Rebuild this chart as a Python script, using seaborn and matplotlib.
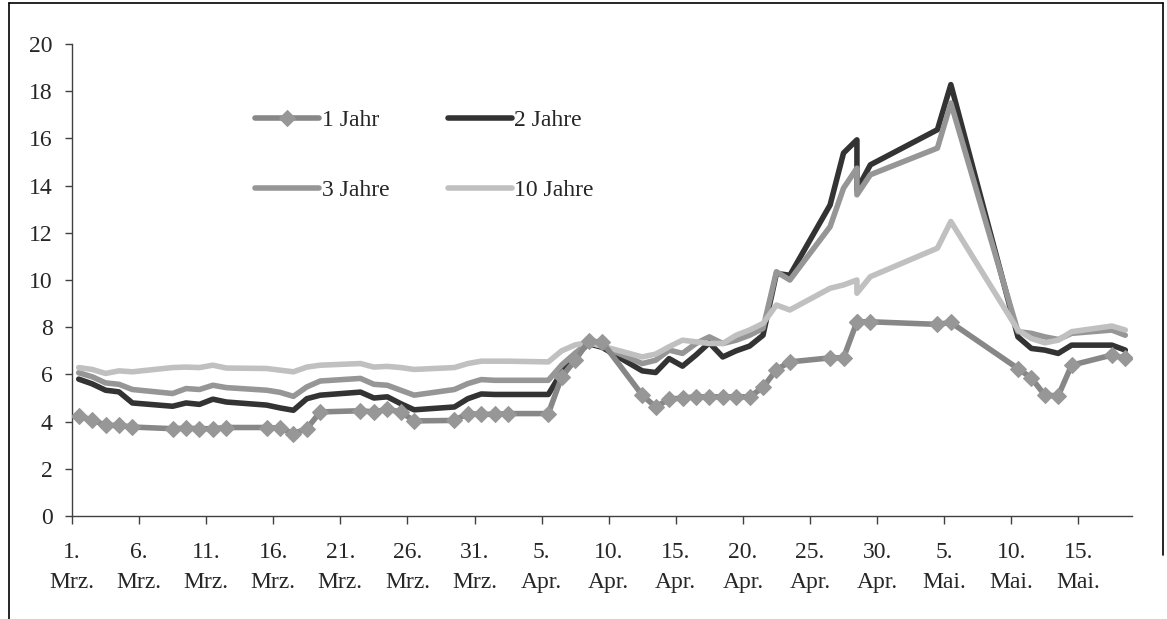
import numpy as np
import pandas as pd
import matplotlib
matplotlib.use("Agg")
import matplotlib.pyplot as plt
from matplotlib.lines import Line2D
import seaborn as sns

# --- Data (2004) ---
dates = [
    "2004-03-01", "2004-03-02", "2004-03-03", "2004-03-04", "2004-03-05",
    "2004-03-08", "2004-03-09", "2004-03-10", "2004-03-11", "2004-03-12",
    "2004-03-15", "2004-03-16", "2004-03-17", "2004-03-18", "2004-03-19",
    "2004-03-22", "2004-03-23", "2004-03-24", "2004-03-25", "2004-03-26",
    "2004-03-29", "2004-03-30", "2004-03-31", "2004-04-01", "2004-04-02",
    "2004-04-05", "2004-04-06", "2004-04-07", "2004-04-08", "2004-04-09",
    "2004-04-12", "2004-04-13", "2004-04-14", "2004-04-15", "2004-04-16",
    "2004-04-17", "2004-04-18", "2004-04-19", "2004-04-20", "2004-04-21",
    "2004-04-22", "2004-04-23", "2004-04-26", "2004-04-27", "2004-04-28",
    "2004-04-28", "2004-04-29", "2004-05-04", "2004-05-05", "2004-05-10",
    "2004-05-11", "2004-05-12", "2004-05-13", "2004-05-14", "2004-05-17",
    "2004-05-18",
]

jahr_1 = [
    4.22, 4.08, 3.84, 3.84, 3.77, 3.70, 3.72, 3.70, 3.70, 3.75,
    3.75, 3.72, 3.49, 3.70, 4.41, 4.46, 4.41, 4.52, 4.41, 4.03,
    4.05, 4.34, 4.31, 4.31, 4.34, 4.34, 5.90, 6.60, 7.40, 7.38,
    5.12, 4.62, 4.95, 5.00, 5.05, 5.05, 5.05, 5.05, 5.05, 5.45,
    6.20, 6.53, 6.70, 6.70, 8.23, 8.23, 8.23, 8.12, 8.20, 6.25,
    5.85, 5.12, 5.09, 6.39, 6.82, 6.68,
]

jahre_2 = [
    5.80, 5.60, 5.33, 5.26, 4.79, 4.65, 4.79, 4.73, 4.95, 4.83,
    4.70, 4.58, 4.48, 4.97, 5.12, 5.25, 5.00, 5.05, 4.76, 4.50,
    4.62, 4.97, 5.17, 5.15, 5.15, 5.15, 6.10, 6.80, 7.30, 7.15,
    6.15, 6.08, 6.67, 6.35, 6.82, 7.34, 6.74, 7.00, 7.20, 7.66,
    10.28, 10.20, 13.18, 15.38, 15.94, 13.82, 14.88, 16.37, 18.28, 7.59,
    7.10, 7.03, 6.89, 7.24, 7.24, 7.03,
]

jahre_3 = [
    6.07, 5.90, 5.64, 5.58, 5.36, 5.19, 5.40, 5.36, 5.54, 5.44,
    5.33, 5.24, 5.07, 5.47, 5.72, 5.83, 5.58, 5.54, 5.33, 5.12,
    5.36, 5.61, 5.78, 5.75, 5.75, 5.75, 6.40, 6.90, 7.35, 7.20,
    6.46, 6.60, 7.03, 6.89, 7.31, 7.59, 7.31, 7.45, 7.66, 7.95,
    10.35, 10.00, 12.26, 13.89, 14.74, 13.61, 14.46, 15.59, 17.50, 7.81,
    7.74, 7.59, 7.48, 7.74, 7.88, 7.66,
]

jahre_10 = [
    6.29, 6.21, 6.04, 6.15, 6.11, 6.29, 6.31, 6.29, 6.39, 6.27,
    6.25, 6.18, 6.11, 6.31, 6.39, 6.46, 6.31, 6.34, 6.29, 6.21,
    6.29, 6.46, 6.56, 6.56, 6.56, 6.53, 7.00, 7.25, 7.35, 7.20,
    6.74, 6.86, 7.17, 7.45, 7.38, 7.31, 7.31, 7.66, 7.88, 8.16,
    8.94, 8.73, 9.65, 9.79, 10.00, 9.44, 10.14, 11.35, 12.48, 7.88,
    7.52, 7.34, 7.45, 7.81, 8.05, 7.88,
]

tick_dates = [
    "2004-03-01", "2004-03-06", "2004-03-11", "2004-03-16", "2004-03-21",
    "2004-03-26", "2004-03-31", "2004-04-05", "2004-04-10", "2004-04-15",
    "2004-04-20", "2004-04-25", "2004-04-30", "2004-05-05", "2004-05-10",
    "2004-05-15",
]
tick_labels = [
    "1.\nMrz.", "6.\nMrz.", "11.\nMrz.", "16.\nMrz.", "21.\nMrz.",
    "26.\nMrz.", "31.\nMrz.", "5.\nApr.", "10.\nApr.", "15.\nApr.",
    "20.\nApr.", "25.\nApr.", "30.\nApr.", "5.\nMai.", "10.\nMai.",
    "15.\nMai.",
]

# --- Styling ---
sns.set_theme(style="white")
plt.rcParams["font.family"] = ["Liberation Serif", "DejaVu Serif"]

df = pd.DataFrame({
    "Datum": pd.to_datetime(dates) + pd.Timedelta(hours=12),
    "1 Jahr": jahr_1,
    "2 Jahre": jahre_2,
    "3 Jahre": jahre_3,
    "10 Jahre": jahre_10,
})

fig = plt.figure(figsize=(11.67, 6.19), dpi=100)
ax = fig.add_axes([0.0617, 0.1664, 0.9083, 0.7625])

line_kw = dict(estimator=None, sort=False, ax=ax, linewidth=4,
               solid_capstyle="round", solid_joinstyle="round")

sns.lineplot(data=df, x="Datum", y="2 Jahre", color="#333333",
             label="2 Jahre", **line_kw)
sns.lineplot(data=df, x="Datum", y="3 Jahre", color="#969696",
             label="3 Jahre", **line_kw)
sns.lineplot(data=df, x="Datum", y="10 Jahre", color="#c0c0c0",
             label="10 Jahre", **line_kw)
sns.lineplot(data=df, x="Datum", y="1 Jahr", color="#878787",
             marker="D", markersize=8, markerfacecolor="#979797",
             markeredgecolor="#979797", label="1 Jahr", zorder=5, **line_kw)

ax.set_xlim(pd.Timestamp("2004-03-01"), pd.Timestamp("2004-05-19"))
ax.set_ylim(0, 20)
ax.set_yticks(np.arange(0, 21, 2))
ax.set_xticks(pd.to_datetime(tick_dates))
ax.set_xticklabels(tick_labels, linespacing=1.55)
ax.set_xlabel("")
ax.set_ylabel("")

for side in ["top", "right"]:
    ax.spines[side].set_visible(False)
for side in ["left", "bottom"]:
    ax.spines[side].set_color("#404040")
    ax.spines[side].set_linewidth(1.0)

ax.tick_params(axis="y", direction="out", length=5, width=1, color="#404040",
               labelsize=17, pad=9, left=True)
ax.tick_params(axis="x", direction="out", length=6, width=1, color="#404040",
               labelsize=17, pad=13, bottom=True)

# Legend: 2 columns, 1 Jahr / 2 Jahre on top row
handles, labels = ax.get_legend_handles_labels()
order = [labels.index(n) for n in ["1 Jahr", "3 Jahre", "2 Jahre", "10 Jahre"]]
ax.legend([handles[i] for i in order], [labels[i] for i in order],
          ncol=2, frameon=False, loc="upper left",
          bbox_to_anchor=(0.153, 0.906), fontsize=17,
          handlelength=2.7, handletextpad=0.1, columnspacing=2.5,
          labelspacing=2.05, numpoints=1)

# Outer chart border (cropped)
fig.add_artist(Line2D([0.0077, 0.0077], [0.0, 0.995], color="black", lw=1.2,
                      transform=fig.transFigure))
fig.add_artist(Line2D([0.0077, 0.9966], [0.995, 0.995], color="black", lw=1.2,
                      transform=fig.transFigure))
fig.add_artist(Line2D([0.9966, 0.9966], [0.995, 0.103], color="black", lw=1.2,
                      transform=fig.transFigure))

fig.savefig("out.png", dpi=100)
